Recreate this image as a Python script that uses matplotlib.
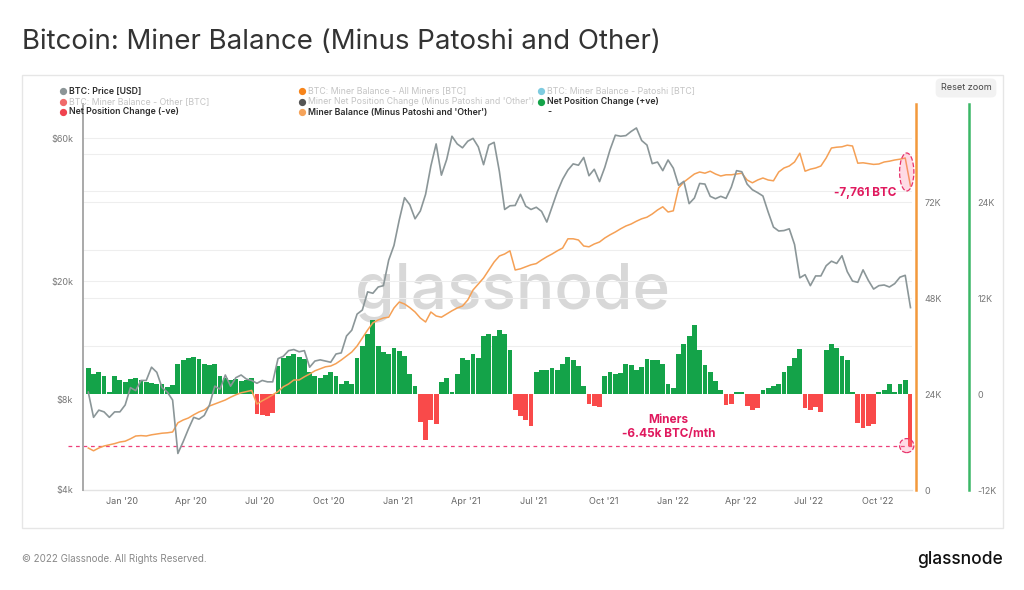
import numpy as np
import pandas as pd
import matplotlib
matplotlib.use('Agg')
import matplotlib.pyplot as plt
import matplotlib.dates as mdates
import matplotlib.transforms as mtransforms
from matplotlib.patches import Ellipse, Rectangle
from matplotlib.lines import Line2D
from matplotlib.ticker import NullLocator, FixedLocator, FixedFormatter

plt.rcParams['font.family'] = ['Inter', 'DejaVu Sans']

# ---------------- data (weekly samples) ----------------
start_date = '2019-11-17'

btc_price = [
    8500, 7000, 7400, 7300, 7000, 7300, 7300,
    7700, 8800, 8600, 9300, 9300, 10300, 9900, 8800, 8500, 8000, 5300, 5800, 6400,
    7000, 6900, 7100, 7700, 8900, 8700, 9700, 8900, 9500, 9700, 9400, 9300, 9100,
    9300, 9200, 9200, 11000, 11200, 11700, 11800, 11600, 11700, 10300, 10800, 10900,
    10800, 10700, 11400, 11500, 13100, 13700, 15500, 16000, 18400, 18200, 19100,
    19300, 23500, 26300,
    32000, 38000, 36000, 32300, 34300, 39000, 48500, 57500, 45200, 51000, 61000,
    57500, 55800, 58700, 60000, 56200, 49000, 57000, 58200, 46500, 34700, 35700,
    35800, 39000, 35600, 34700, 35300, 34200, 31500, 35400, 39800, 43800, 47000,
    49300, 48800, 51800, 45000, 47300, 43000, 48000, 55000, 61500, 61000, 61300,
    63300, 65000, 59000, 57000, 49400, 50000, 46800, 50800,
    47700, 41800, 43100, 36300, 37900, 42400, 42200, 38400, 37700, 38400, 37800,
    41200, 46800, 46400, 42200, 40400, 39500, 38500, 34000, 30300, 29400, 29500,
    29900, 26500, 20500, 21000, 19300, 20800, 20800, 22500, 23300, 22900, 24300,
    21500, 20000, 19800, 21800, 20100, 18800, 19300, 19400, 19100, 19600, 20600,
    20900, 16300,
]

miner_balance_k = [
    10.5, 9.8, 10.5, 11.0, 11.3, 11.6, 12.0, 12.2, 12.8, 13.5,
    13.6, 13.5, 13.8, 14.0, 14.2, 14.3, 14.5, 16.8, 17.5, 18.0,
    18.8, 19.5, 20.0, 21.0, 21.5, 22.0, 22.5, 23.2, 23.8, 24.3,
    24.6, 24.9, 21.5, 22.3, 23.0, 23.8, 24.6, 25.8, 26.5, 27.5,
    27.5, 28.3, 29.0, 29.8, 30.3, 30.8, 31.0, 31.6, 32.5, 33.5,
    34.5, 36.0, 38.0, 40.0, 41.8, 42.5, 43.0, 43.2, 45.5, 47.0,
    46.5, 45.6, 44.5, 43.0, 42.0, 44.5, 43.5, 43.2, 44.0, 44.8,
    45.5, 46.0, 47.5, 50.0, 51.5, 53.0, 55.0, 57.0, 58.5, 59.0,
    59.8, 55.0, 55.3, 55.8, 56.3, 56.6, 57.5, 58.3, 59.0, 59.8,
    60.5, 62.8, 62.8, 62.5, 61.0, 60.8, 61.5, 62.0, 63.0, 63.8,
    64.5, 65.3, 66.0, 66.5, 67.2, 67.8, 68.2, 69.0, 70.0, 70.8,
    69.5, 69.8, 75.5, 77.0, 78.0, 79.0, 79.5, 79.2, 79.7, 79.0,
    78.5, 78.8, 78.8, 79.0, 79.2, 77.5, 76.8, 77.5, 78.0, 77.5,
    77.3, 79.5, 80.5, 81.0, 82.0, 84.2, 79.7, 80.2, 80.5, 81.0,
    83.0, 85.5, 85.7, 85.8, 86.2, 86.0, 81.7, 81.8, 81.6, 81.4,
    81.5, 82.0, 82.2, 82.5, 82.7, 83.0, 76.0,
]

net_position_k = [
    3.3, 2.5, 2.8, 2.2, 0.3, 2.2, 1.8, 1.5, 1.9, 2.0,
    1.8, 1.5, 1.4, 1.2, 1.3, 0.9, 1.1, 3.8, 4.2, 4.5,
    4.6, 4.4, 3.8, 3.6, 3.8, 2.3, 2.0, 1.8, 1.9, 1.6,
    1.7, 2.0, -2.5, -2.6, -2.7, -2.4, 3.5, 4.5, 4.8, 5.0,
    4.6, 4.4, 2.8, 2.2, 2.0, 2.4, 2.8, 2.2, 1.3, 1.6,
    1.2, 4.5, 6.0, 7.5, 9.3, 6.0, 5.2, 5.0, 5.8, 5.4,
    4.8, 2.5, 1.0, -3.5, -5.8, -3.2, -3.8, 1.5, 2.0, 0.3,
    2.5, 4.5, 4.2, 5.0, 4.5, 7.2, 7.5, 7.2, 8.0, 7.5,
    5.5, -2.0, -2.8, -3.2, -4.0, 2.8, 3.0, 3.0, 3.2, 3.0,
    3.8, 4.6, 4.2, 3.5, 1.0, -1.2, -1.5, -1.6, 2.2, 2.8,
    2.5, 2.6, 3.8, 3.6, 3.0, 3.4, 4.4, 4.3, 4.2, 3.8,
    1.2, 0.8, 5.0, 6.2, 7.2, 8.6, 5.5, 3.6, 2.8, 1.6,
    0.5, -1.4, -1.2, 0.3, 0.2, -1.5, -2.0, -1.8, 0.5, 0.8,
    1.0, 1.2, 2.8, 3.5, 4.5, 5.6, -1.8, -2.0, -1.6, -2.3,
    5.5, 6.2, 5.8, 4.8, 4.2, 0.3, -3.6, -4.2, -4.0, -3.8,
    0.3, 0.5, 1.3, 0.2, 1.2, 1.8, -6.45,
]

xtick_dates = ['2020-01-01', '2020-04-01', '2020-07-01', '2020-10-01',
               '2021-01-01', '2021-04-01', '2021-07-01', '2021-10-01',
               '2022-01-01', '2022-04-01', '2022-07-01', '2022-10-01']
xtick_labels = ["Jan '20", "Apr '20", "Jul '20", "Oct '20",
                "Jan '21", "Apr '21", "Jul '21", "Oct '21",
                "Jan '22", "Apr '22", "Jul '22", "Oct '22"]
price_ticks = [4000, 8000, 20000, 60000]
price_tick_labels = ['$4k', '$8k', '$20k', '$60k']
balance_ticks = [0, 24, 48, 72]
balance_tick_labels = ['0', '24K', '48K', '72K']
net_ticks = [-12, 0, 12, 24]
net_tick_labels = ['-12K', '0', '12K', '24K']

legend_rows = [
    [("BTC: Price [USD]", '#8c9597', True),
     ("BTC: Miner Balance - All Miners [BTC]", '#f7841a', False),
     ("BTC: Miner Balance - Patoshi [BTC]", '#7ecbe0', False)],
    [("BTC: Miner Balance - Other [BTC]", '#f06a6a', False),
     ("Miner Net Position Change (Minus Patoshi and 'Other')", '#555555', False),
     ("Net Position Change (+ve)", '#14a349', True)],
    [("Net Position Change (-ve)", '#f0434f', True),
     ("Miner Balance (Minus Patoshi and 'Other')", '#f5a35a', True),
     ("-", None, True)],
]

assert len(btc_price) == len(miner_balance_k) == len(net_position_k)
dates = pd.date_range(start_date, periods=len(btc_price), freq='7D')

# ---------------- figure ----------------
W, H = 1024, 590
fig = plt.figure(figsize=(W / 100, H / 100), dpi=100)
fig.patch.set_facecolor('white')


def fx(p):
    return p / W


def fy(p):
    return 1 - p / H


L, R, T, B = 83, 912, 104, 490
ax_net = fig.add_axes([fx(L), fy(B), (R - L) / W, (B - T) / H])
ax_bal = ax_net.twinx()
ax_price = ax_net.twinx()
for a, z in ((ax_net, 1), (ax_bal, 2), (ax_price, 3)):
    a.set_zorder(z)
    a.patch.set_visible(False)
    for s in a.spines.values():
        s.set_visible(False)

# x range
ax_net.set_xlim(pd.Timestamp('2019-11-10'), pd.Timestamp('2022-11-15'))
ax_net.xaxis.set_major_locator(FixedLocator(mdates.date2num(pd.to_datetime(xtick_dates))))
ax_net.xaxis.set_major_formatter(FixedFormatter(xtick_labels))
ax_net.tick_params(axis='x', length=0, labelsize=6.5, colors='#666666', pad=5)

# net axis (green, far right)
ax_net.set_ylim(-12, (394 - T) / 8.0)
ax_net.yaxis.tick_right()
ax_net.set_yticks(net_ticks)
ax_net.set_yticklabels(net_tick_labels)
ax_net.spines['right'].set_visible(True)
ax_net.spines['right'].set_position(('outward', 41))
ax_net.spines['right'].set_color('#3bb766')
ax_net.spines['right'].set_linewidth(1.8)
ax_net.tick_params(axis='y', length=0, labelsize=6.5, colors='#777777', pad=6)

# balance axis (orange)
ax_bal.set_ylim(0, (B - T) / 4.0)
ax_bal.set_yticks(balance_ticks)
ax_bal.set_yticklabels(balance_tick_labels)
ax_bal.spines['right'].set_visible(True)
ax_bal.spines['right'].set_position(('outward', 3))
ax_bal.spines['right'].set_color('#f3993c')
ax_bal.spines['right'].set_linewidth(1.8)
ax_bal.tick_params(axis='y', length=0, labelsize=6.5, colors='#777777', pad=6)

# price axis (log, left)
ax_price.set_yscale('log')
ax_price.set_ylim(4000, 4000 * 2 ** ((B - T) / 90.0))
ax_price.yaxis.tick_left()
ax_price.set_yticks(price_ticks)
ax_price.set_yticklabels(price_tick_labels)
ax_price.yaxis.set_minor_locator(NullLocator())
ax_price.spines['left'].set_visible(True)
ax_price.spines['left'].set_color('#a9a9a9')
ax_price.spines['left'].set_linewidth(1.4)
ax_price.tick_params(axis='y', length=0, labelsize=6.5, colors='#777777', pad=7)

# gridlines (drawn on bottom axes)
grid_c = '#eeeeee'
for v in [6, 12, 18, 24, 30]:
    ax_net.axhline(v, color=grid_c, lw=0.8, zorder=0)
trans_p = mtransforms.blended_transform_factory(ax_net.transAxes, ax_price.transData)
for p in [20000, 40000, 60000]:
    ax_net.plot([0, 1], [p, p], transform=trans_p, color=grid_c, lw=0.8, zorder=0)
ax_net.axhline(-12, color='#e3e3e3', lw=1.0, zorder=0, clip_on=False)

# bars
bar_colors = ['#14a349' if v >= 0 else '#f94a4a' for v in net_position_k]
ax_net.bar(dates, net_position_k, width=6.4, color=bar_colors, zorder=2, linewidth=0)

# dashed reference line
ax_net.axhline(net_position_k[-1], xmin=-0.018, xmax=1.0, color='#ee3f7a', lw=0.9,
               ls=(0, (3, 3)), clip_on=False, zorder=3)

# lines
ax_bal.plot(dates, miner_balance_k, color='#f5a055', lw=1.1, zorder=3)
ax_price.plot(dates, btc_price, color='#8b9698', lw=1.2, zorder=3)

# annotations
crim = '#e0195e'
end_day = mdates.date2num(pd.Timestamp('2022-11-08'))
ax_bal.add_patch(Ellipse((end_day, 79.5), 19, 9.5, facecolor=(1, 0.45, 0.6, 0.25),
                         edgecolor='#e8336b', ls='--', lw=0.9, clip_on=False, zorder=4))
ax_bal.text(pd.Timestamp('2022-09-14'), 74.2, '-7,761 BTC', ha='center', va='center',
            fontsize=8.5, fontweight='bold', color=crim, zorder=5)
ax_net.add_patch(Ellipse((end_day, net_position_k[-1]), 19, 1.75,
                         facecolor=(1, 0.45, 0.6, 0.25), edgecolor='#e8336b',
                         ls='--', lw=0.9, clip_on=False, zorder=4))
ax_net.text(pd.Timestamp('2021-12-27'), -4.1, 'Miners\n-6.45k BTC/mth', ha='center',
            va='center', fontsize=8.5, fontweight='bold', color=crim, linespacing=1.25,
            zorder=5)

# watermark
fig.text(fx(513), fy(292), 'glassnode', fontsize=46, color='#d8d8d8', ha='center',
         va='center', zorder=0.5, fontweight='medium')

# card border
fig.add_artist(Rectangle((fx(22), fy(528)), (1003 - 22) / W, (528 - 75) / H,
                         transform=fig.transFigure, fill=False, ec='#e6e6e6', lw=1.0))

# title & footer
fig.text(fx(22), fy(42), 'Bitcoin: Miner Balance (Minus Patoshi and Other)',
         fontsize=19.9, color='#333333', ha='left', va='center')
fig.text(fx(22), fy(559), '\u00a9 2022 Glassnode. All Rights Reserved.', fontsize=7,
         color='#888888', ha='left', va='center')
fig.text(fx(1003), fy(559), 'glassnode', fontsize=12.5, color='#111111', ha='right',
         va='center', fontweight='medium')

# reset zoom button
fig.text(fx(966), fy(88), 'Reset zoom', fontsize=6.5, color='#444444', ha='center',
         va='center', bbox=dict(boxstyle='round,pad=0.55', fc='#f2f2f2', ec='none'))

# legend
col_x = [62.7, 301.7, 541.0]
row_y = [91, 101.5, 112]
for r, row in enumerate(legend_rows):
    for c, (label, color, active) in enumerate(row):
        if color is not None:
            fig.add_artist(Line2D([fx(col_x[c])], [fy(row_y[r])], transform=fig.transFigure,
                                  marker='o', ms=4.2, color=color, lw=0))
        fig.text(fx(col_x[c] + 6), fy(row_y[r]), label, fontsize=6.3,
                 color='#2b2b2b' if active else '#c4c4c4',
                 fontweight='semibold' if active else 'normal', ha='left', va='center')

fig.savefig('out.png', dpi=100)
